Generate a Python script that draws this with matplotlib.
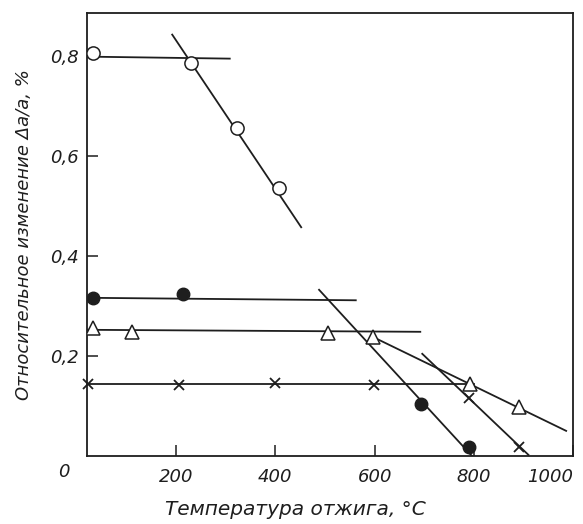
import matplotlib
matplotlib.use("Agg")
import matplotlib.pyplot as plt

plt.rcParams['font.family'] = ['DejaVu Sans']
plt.rcParams['font.style'] = 'italic'

# точки (температура отжига, °C ; Δa/a, %)
t_open = [32, 230, 322, 408]
v_open = [0.806, 0.786, 0.655, 0.535]

t_fill = [32, 214, 694, 790]
v_fill = [0.316, 0.324, 0.104, 0.018]

t_tri = [32, 110, 506, 596, 792, 890]
v_tri = [0.256, 0.248, 0.246, 0.238, 0.144, 0.098]

t_cross = [22, 206, 400, 598, 790, 890]
v_cross = [0.144, 0.142, 0.146, 0.142, 0.116, 0.018]

# прямые (начало и конец отрезков)
lines_open = [([20, 308], [0.798, 0.794]), ([192, 452], [0.842, 0.457])]
lines_fill = [([20, 562], [0.316, 0.311]), ([488, 796], [0.332, 0.0])]
lines_tri = [([20, 692], [0.252, 0.248]), ([596, 986], [0.238, 0.05])]
lines_cross = [([20, 800], [0.144, 0.144]), ([696, 910], [0.204, 0.002])]

x_ticks = [200, 400, 600, 800, 1000]
y_ticks = [0.2, 0.4, 0.6, 0.8]
y_labels = ['0,2', '0,4', '0,6', '0,8']

c = '#1e1e1e'
fig = plt.figure(figsize=(5.83, 5.24), dpi=100)
ax = fig.add_axes([0.149, 0.13, 0.834, 0.845])

for segs in (lines_open, lines_fill, lines_tri, lines_cross):
    for xs, ys in segs:
        ax.plot(xs, ys, color=c, lw=1.3, zorder=2)

ax.plot(t_open, v_open, 'o', ms=9.5, mfc='white', mec=c, mew=1.1, zorder=3)
ax.plot(t_fill, v_fill, 'o', ms=9, mfc=c, mec=c, zorder=3)
ax.plot(t_tri, v_tri, '^', ms=9.5, mfc='white', mec=c, mew=1.1, zorder=3)
ax.plot(t_cross, v_cross, 'x', ms=7.5, color=c, mew=1.3, zorder=3, clip_on=False)

ax.set_xlim(20, 1000)
ax.set_ylim(0, 0.885)
ax.set_xticks(x_ticks)
ax.set_xticklabels([str(t) for t in x_ticks])
ax.set_yticks(y_ticks)
ax.set_yticklabels(y_labels)
ax.tick_params(direction='in', length=8, width=1.1, colors=c, labelsize=13)
ax.tick_params(axis='x', pad=9)
ax.tick_params(axis='y', pad=6)
for lab in ax.get_xticklabels():
    if lab.get_text() == '1000':
        lab.set_horizontalalignment('right')
for s in ax.spines.values():
    s.set_color(c)
    s.set_linewidth(1.3)

ax.text(-0.035, -0.015, '0', transform=ax.transAxes, fontsize=13, color=c,
        ha='right', va='top')

ax.set_xlabel('Температура отжига, °C', fontsize=14.5, color=c)
ax.xaxis.set_label_coords(0.428, -0.1)
ax.set_ylabel('Относительное изменение Δa/a, %', fontsize=13, color=c, labelpad=12)

fig.savefig('out.png', dpi=100, facecolor='white')
